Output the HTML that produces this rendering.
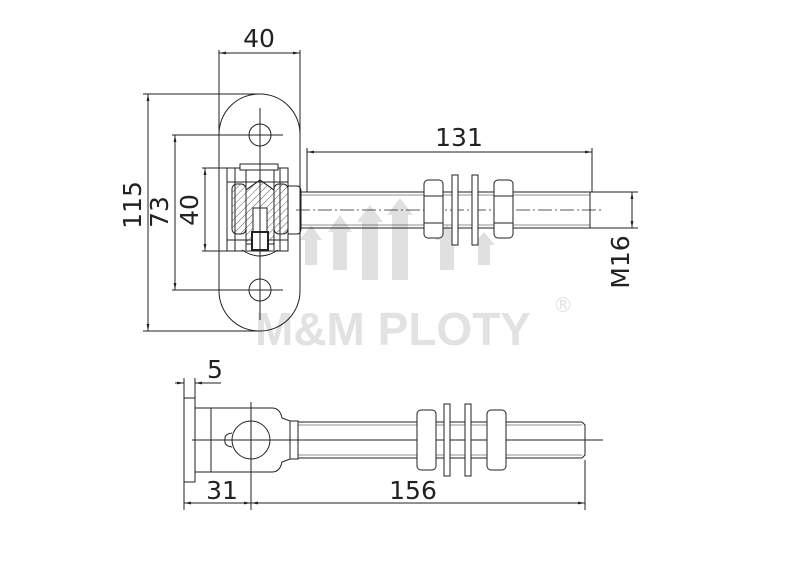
<!DOCTYPE html>
<html><head><meta charset="utf-8"><style>
html,body{margin:0;padding:0;background:#fff;width:800px;height:586px;overflow:hidden}
svg{display:block}
text{font-family:"DejaVu Sans","Liberation Sans",sans-serif;fill:#222}
</style></head><body>
<svg width="800" height="586" viewBox="0 0 800 586" xmlns="http://www.w3.org/2000/svg">
<defs>
<pattern id="h" width="5" height="5" patternUnits="userSpaceOnUse" patternTransform="rotate(45)">
<line x1="0" y1="0" x2="0" y2="5" stroke="#333" stroke-width="0.8"/></pattern>
<marker id="a" viewBox="0 0 10 10" refX="10" refY="5" markerWidth="7" markerHeight="7" orient="auto-start-reverse"><path d="M0,3 L10,5 L0,7z" fill="#222"/></marker>
</defs>
<!-- watermark -->
<g fill="#e0e0e0">
<path d="M305 265 L305 240 L300 240 L311 225 L322 240 L317 240 L317 265z"/>
<path d="M333 270 L333 232 L328 232 L340 215 L352 232 L347 232 L347 270z"/>
<path d="M362 280 L362 222 L357 222 L370 205 L383 222 L378 222 L378 280z"/>
<path d="M392 280 L392 215 L387 215 L400 198 L413 215 L408 215 L408 280z"/>
<path d="M440 270 L440 240 L435 240 L447 225 L459 240 L454 240 L454 270z"/>
<path d="M478 265 L478 245 L473 245 L484 232 L495 245 L490 245 L490 265z"/>
</g>
<text x="255" y="345" font-size="46" font-weight="bold" style="fill:#e2e2e2;font-family:'Liberation Sans',sans-serif">M&amp;M PLOTY</text>
<text x="553" y="312" font-size="20" style="fill:#e2e2e2">®</text>

<g stroke="#222" stroke-width="1" fill="none">
<!-- TOP VIEW -->
<rect x="219" y="94" width="81" height="237" rx="40" ry="40"/>
<circle cx="260" cy="135" r="11"/><circle cx="260" cy="290" r="11"/>
<line x1="219" y1="50" x2="219" y2="140"/><line x1="300" y1="50" x2="300" y2="140"/>
<line x1="219" y1="53" x2="300" y2="53" marker-start="url(#a)" marker-end="url(#a)"/>
<line x1="143" y1="94" x2="262" y2="94"/><line x1="143" y1="331" x2="262" y2="331"/>
<line x1="148" y1="94" x2="148" y2="331" marker-start="url(#a)" marker-end="url(#a)"/>
<line x1="172" y1="135" x2="283" y2="135"/><line x1="172" y1="290" x2="283" y2="290"/>
<line x1="175" y1="135" x2="175" y2="290" marker-start="url(#a)" marker-end="url(#a)"/>
<line x1="202" y1="168" x2="228" y2="168"/><line x1="202" y1="251" x2="228" y2="251"/>
<line x1="205" y1="168" x2="205" y2="251" marker-start="url(#a)" marker-end="url(#a)"/>
<!-- hinge body -->
<rect x="227" y="168" width="61" height="83" fill="#fff"/>
<line x1="235" y1="168" x2="235" y2="251"/><line x1="280" y1="168" x2="280" y2="251"/>
<line x1="227" y1="182" x2="288" y2="182"/><line x1="227" y1="240" x2="288" y2="240"/>
<rect x="232" y="184" width="14" height="50" rx="5" fill="url(#h)"/>
<rect x="274" y="184" width="14" height="50" rx="5" fill="url(#h)"/>
<path d="M246 190 L260 180 L274 190 L274 244 L246 244z" fill="url(#h)"/>
<line x1="246" y1="170" x2="246" y2="250"/><line x1="274" y1="170" x2="274" y2="250"/>
<rect x="240" y="164" width="38" height="6" fill="#fff"/>
<path d="M260 180 L246 190 M260 180 L274 190"/>
<rect x="253" y="208" width="14" height="42" fill="#fff"/>
<rect x="252" y="232" width="16" height="18" stroke-width="2" fill="#fff"/>
<path d="M242 250 Q260 262 278 250"/>
<line x1="260" y1="108" x2="260" y2="320"/>
<path d="M288 186 L297 186 Q301 186 301 192 L301 228 Q301 234 297 234 L288 234"/>
<!-- rod -->
<line x1="301" y1="192" x2="632" y2="192"/><line x1="301" y1="228" x2="632" y2="228"/>
<line x1="301" y1="195" x2="590" y2="195" stroke-width="0.6"/><line x1="301" y1="225" x2="590" y2="225" stroke-width="0.6"/>
<line x1="590" y1="192" x2="590" y2="228"/>
<line x1="632" y1="192" x2="632" y2="228"/>
<line x1="296" y1="210" x2="602" y2="210" stroke-dasharray="14 3 2 3" stroke-width="0.7"/>
<rect x="424" y="180" width="19" height="58" rx="4" fill="#fff"/>
<line x1="424" y1="196" x2="443" y2="196"/><line x1="424" y1="223" x2="443" y2="223"/>
<rect x="452" y="175" width="6" height="70" fill="#fff"/>
<rect x="472" y="175" width="6" height="70" fill="#fff"/>
<rect x="494" y="180" width="19" height="58" rx="4" fill="#fff"/>
<line x1="494" y1="196" x2="513" y2="196"/><line x1="494" y1="223" x2="513" y2="223"/>
<line x1="307" y1="148" x2="307" y2="192"/><line x1="592" y1="148" x2="592" y2="192"/>
<line x1="307" y1="152" x2="592" y2="152" marker-start="url(#a)" marker-end="url(#a)"/>
<line x1="628" y1="192" x2="638" y2="192"/><line x1="628" y1="228" x2="638" y2="228"/>
<line x1="632" y1="192" x2="632" y2="228" marker-start="url(#a)" marker-end="url(#a)"/>

<!-- BOTTOM VIEW -->
<rect x="184" y="398" width="11" height="84"/>
<path d="M195 408 L272 408 Q280 408 282 418 L290 421 L298 421 L298 459 L290 459 L282 462 Q280 472 272 472 L195 472"/>
<line x1="211" y1="408" x2="211" y2="472"/>
<line x1="290" y1="421" x2="290" y2="459"/>
<circle cx="251" cy="440" r="19"/>
<path d="M232 433 Q224 434 225 440 Q224 446 232 447"/>
<line x1="298" y1="422" x2="582" y2="422"/><line x1="298" y1="458" x2="582" y2="458"/>
<line x1="298" y1="425" x2="582" y2="425" stroke-width="0.6"/><line x1="298" y1="455" x2="582" y2="455" stroke-width="0.6"/>
<path d="M582 422 L585 425 L585 455 L582 458"/>
<line x1="192" y1="440" x2="603" y2="440"/>
<rect x="417" y="410" width="19" height="60" rx="4" fill="#fff"/>
<rect x="444" y="404" width="6" height="72" fill="#fff"/>
<rect x="465" y="404" width="6" height="72" fill="#fff"/>
<rect x="487" y="410" width="19" height="60" rx="4" fill="#fff"/>
<line x1="184" y1="378" x2="184" y2="398"/><line x1="195" y1="378" x2="195" y2="398"/>
<line x1="175" y1="383" x2="184" y2="383" marker-end="url(#a)"/>
<line x1="221" y1="383" x2="195" y2="383" marker-end="url(#a)"/>
<line x1="184" y1="482" x2="184" y2="510"/><line x1="251" y1="402" x2="251" y2="510"/>
<line x1="585" y1="460" x2="585" y2="510"/>
<line x1="184" y1="503" x2="251" y2="503" marker-start="url(#a)" marker-end="url(#a)"/>
<line x1="251" y1="503" x2="585" y2="503" marker-start="url(#a)" marker-end="url(#a)"/>
</g>
<g font-size="25">
<text x="259" y="47" text-anchor="middle">40</text>
<text x="459" y="146" text-anchor="middle">131</text>
<text transform="translate(141,205) rotate(-90)" text-anchor="middle">115</text>
<text transform="translate(168,212) rotate(-90)" text-anchor="middle">73</text>
<text transform="translate(198,210) rotate(-90)" text-anchor="middle">40</text>
<text transform="translate(629,262) rotate(-90)" text-anchor="middle">M16</text>
<text x="215" y="378" text-anchor="middle">5</text>
<text x="222" y="499" text-anchor="middle">31</text>
<text x="413" y="499" text-anchor="middle">156</text>
</g>
</svg>
</body></html>
